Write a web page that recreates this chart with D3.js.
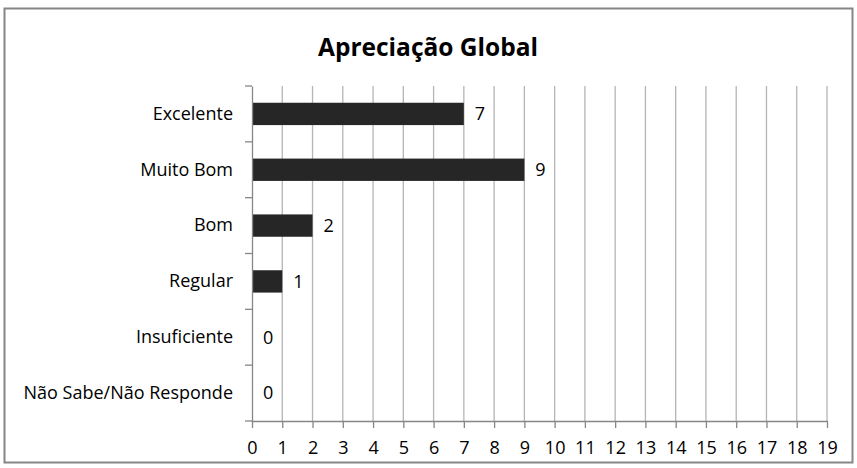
<!DOCTYPE html>
<html>
<head>
<meta charset="utf-8">
<script src="https://cdn.jsdelivr.net/npm/d3@7"></script>
<style>
  html, body { margin: 0; padding: 0; background: #fff; }
  svg { display: block; font-family: "Open Sans", sans-serif; }
</style>
</head>
<body>
<svg id="chart" width="857" height="468"></svg>
<script>
// Survey answers for the overall rating
const categories = ["Excelente", "Muito Bom", "Bom", "Regular", "Insuficiente", "Não Sabe/Não Responde"];
const values = [7, 9, 2, 1, 0, 0];
const xTicks = d3.range(0, 20);
const title = "Apreciação Global";

const svg = d3.select("#chart");
const W = 857, H = 468;
const margin = { left: 252, right: 30, top: 86, bottom: 47 };
const FONT = "'Open Sans', sans-serif";
const LABEL_SIZE = 18;

// Chart frame
svg.append("rect")
  .attr("x", 4.5).attr("y", 8.5)
  .attr("width", W - 9).attr("height", H - 14)
  .attr("fill", "#fff").attr("stroke", "#868686").attr("stroke-width", 2);

svg.append("text")
  .attr("x", 428).attr("y", 56)
  .attr("text-anchor", "middle")
  .attr("font-size", 24.5).attr("font-weight", "bold")
  .attr("fill", "#000")
  .text(title);

const x = d3.scaleLinear().domain([0, 19]).range([margin.left, W - margin.right]);
const y = d3.scaleBand().domain(categories).range([margin.top, H - margin.bottom]).paddingInner(0.6).paddingOuter(0.3);
const yb = d3.scaleBand().domain(categories).range([margin.top, H - margin.bottom]);

// Vertical gridlines
svg.append("g").selectAll("line").data(xTicks.slice(1)).join("line")
  .attr("x1", d => x(d)).attr("x2", d => x(d))
  .attr("y1", margin.top).attr("y2", H - margin.bottom)
  .attr("stroke", "#b5b5b5").attr("stroke-width", 1.3);

// Bars
svg.append("g").selectAll("rect").data(values).join("rect")
  .attr("x", x(0))
  .attr("y", (d, i) => y(categories[i]))
  .attr("width", d => x(d) - x(0))
  .attr("height", y.bandwidth())
  .attr("fill", "#262626");

// Value labels
svg.append("g").selectAll("text").data(values).join("text")
  .attr("x", d => x(d) + 11)
  .attr("y", (d, i) => yb(categories[i]) + yb.bandwidth() / 2)
  .attr("dy", "0.35em")
  .attr("font-size", LABEL_SIZE)
  .attr("fill", "#000")
  .text(d => d);

// Y axis
const yAxis = svg.append("g")
  .attr("transform", `translate(${x(0)},0)`)
  .call(d3.axisLeft(yb).tickSize(0).tickPadding(19));
yAxis.select(".domain").attr("stroke", "#868686").attr("stroke-width", 1.3);
yAxis.selectAll("text").attr("font-size", LABEL_SIZE).attr("fill", "#000").attr("font-family", FONT);
// Band boundary tick marks
const bounds = categories.map(c => yb(c)).concat([H - margin.bottom]);
yAxis.append("g").selectAll("line").data(bounds).join("line")
  .attr("x1", -7).attr("x2", 0)
  .attr("y1", d => d).attr("y2", d => d)
  .attr("stroke", "#868686").attr("stroke-width", 1.3);

// X axis
const xAxis = svg.append("g")
  .attr("transform", `translate(0,${H - margin.bottom})`)
  .call(d3.axisBottom(x).tickValues(xTicks).tickFormat(d3.format("d")).tickSize(7).tickSizeOuter(0).tickPadding(13));
xAxis.select(".domain").attr("stroke", "#868686").attr("stroke-width", 1.3);
xAxis.selectAll(".tick line").attr("stroke", "#868686").attr("stroke-width", 1.3);
xAxis.selectAll("text").attr("font-size", LABEL_SIZE).attr("fill", "#000").attr("font-family", FONT);
</script>
</body>
</html>
